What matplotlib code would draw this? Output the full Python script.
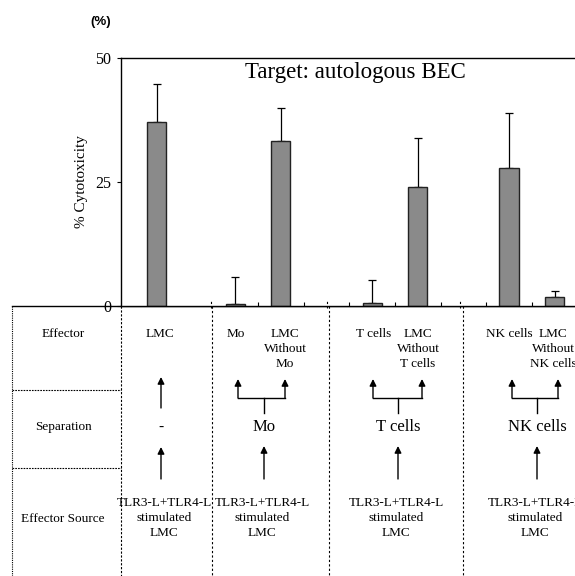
import numpy as np
import matplotlib
matplotlib.use('Agg')
import matplotlib.pyplot as plt

plt.rcParams['font.family'] = ['Liberation Serif', 'DejaVu Serif']

# bar data (x positions in slot units, % cytotoxicity, upper error)
positions = [0.78, 2.5, 3.5, 5.5, 6.5, 8.5, 9.5]
values = [37.1, 0.5, 33.3, 0.6, 24.0, 27.9, 1.9]
errors = [7.7, 5.3, 6.7, 4.6, 9.9, 11.1, 1.2]
yticks = [0, 25, 50]
minor_ticks = [3, 4, 5, 6, 7, 8, 9]
separators = [1.98, 4.52, 7.43]

row_labels = ['Effector', 'Separation', 'Effector Source']
source_text = 'TLR3-L+TLR4-L\nstimulated\nLMC'

W, H = 575, 576
fig = plt.figure(figsize=(W / 100, H / 100), dpi=100)

# background axes in pixel coordinates for the table part
bg = fig.add_axes([0, 0, 1, 1])
bg.set_xlim(0, W)
bg.set_ylim(H, 0)
bg.axis('off')

ax = fig.add_axes([121 / W, 1 - 306 / H, (W - 121) / W + 0.01, (306 - 58) / H])
xmax = (W - 121) / 46 + 0.2
ax.bar(positions, values, width=0.42, color='#8a8a8a', edgecolor='#222222', linewidth=1.0, zorder=2)
ax.errorbar(positions, values, yerr=[np.zeros(len(errors)), errors], fmt='none',
            ecolor='black', elinewidth=0.9, capsize=3, capthick=0.9, zorder=1)
ax.set_xlim(0, xmax)
ax.set_ylim(0, 50)
ax.set_yticks(yticks)
ax.set_yticklabels([str(t) for t in yticks], fontsize=11.5)
ax.set_xticks(minor_ticks)
ax.set_xticklabels([])
ax.tick_params(axis='x', direction='in', length=3, width=0.8)
ax.tick_params(axis='y', direction='out', length=3, width=0.8, pad=4)
ax.spines['right'].set_visible(False)
for s in ['left', 'top', 'bottom']:
    ax.spines[s].set_linewidth(1.0)
ax.set_ylabel('% Cytotoxicity', fontsize=11, labelpad=5)
ax.text(0.51, 0.985, 'Target: autologous BEC', transform=ax.transAxes,
        ha='center', va='top', fontsize=16.5)
for sx in separators:
    ax.plot([sx, sx], [-0.5, 1.2], color='black', lw=0.8, ls=(0, (2, 2)), clip_on=False)

fig.text(101 / W, 1 - 22 / H, '(%)', fontsize=9.5, fontweight='bold',
         family='Liberation Sans', ha='center', va='center')

# table lines
bg.plot([12, W], [306, 306], color='black', lw=1.0)
bg.plot([12, 12], [306, H], color='black', lw=0.8, ls=(0, (1, 1)))
bg.plot([121, 121], [306, H], color='black', lw=0.8, ls=(0, (2, 1.5)))
for yy in [390, 468]:
    bg.plot([12, 121], [yy, yy], color='black', lw=0.8, ls=(0, (1.5, 1)))
sep_px = [121 + s * 46 for s in separators]
for sx in sep_px:
    bg.plot([sx, sx], [306, H], color='black', lw=0.8, ls=(0, (2, 2)))

for lab, yy in zip(row_labels, [334, 427, 519]):
    bg.text(63, yy, lab, ha='center', va='center', fontsize=9.5)

arrow = dict(arrowstyle='-|>', color='black', lw=1.0, mutation_scale=10, shrinkA=0, shrinkB=0)


def up_arrow(x, y0, y1):
    bg.annotate('', xy=(x, y1), xytext=(x, y0), arrowprops=arrow)


def bracket(xl, xr, xc, ytop, ybar, ystem):
    bg.plot([xl, xr], [ybar, ybar], color='black', lw=1.0)
    bg.plot([xc, xc], [ybar, ystem], color='black', lw=1.0)
    up_arrow(xl, ybar, ytop)
    up_arrow(xr, ybar, ytop)


# column 1: unseparated LMC
bg.text(160, 334, 'LMC', ha='center', va='center', fontsize=9.5)
up_arrow(161, 408, 377)
bg.text(161, 427, '-', ha='center', va='center', fontsize=11)
up_arrow(161, 479, 447)
bg.text(164, 518, source_text, ha='center', va='center', fontsize=9.5, linespacing=1.3)

# columns 2-4: separations
sep_cols = [
    ('Mo', 'LMC\nWithout\nMo', 236, 285, 238, 285, 264),
    ('T cells', 'LMC\nWithout\nT cells', 374, 418, 373, 422, 398),
    ('NK cells', 'LMC\nWithout\nNK cells', 509, 553, 512, 558, 537),
]
for name, other, xa, xb, al, ar, xc in sep_cols:
    bg.text(xa, 334, name, ha='center', va='center', fontsize=9.5)
    bg.text(xb, 349, other, ha='center', va='center', fontsize=9.5, linespacing=1.3)
    bracket(al, ar, xc, 379, 398, 413)
    bg.text(xc, 427, name, ha='center', va='center', fontsize=12)
    up_arrow(xc, 479, 446)
    bg.text(xc - 2, 518, source_text, ha='center', va='center', fontsize=9.5, linespacing=1.3)

fig.savefig('out.png', dpi=100)
